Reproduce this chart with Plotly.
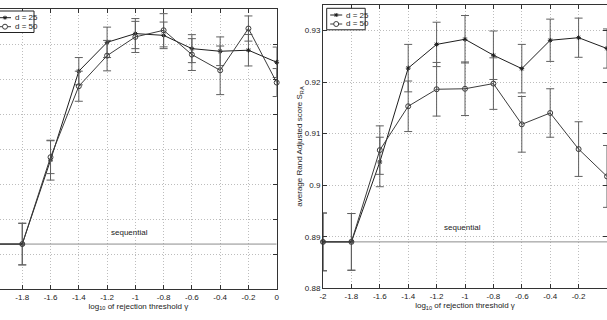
import plotly.graph_objects as go

# ---------------- data ----------------
x_vals = [-2.0, -1.8, -1.6, -1.4, -1.2, -1.0, -0.8, -0.6, -0.4, -0.2, 0.0]
x_tick_vals = [-2.0, -1.8, -1.6, -1.4, -1.2, -1.0, -0.8, -0.6, -0.4, -0.2, 0.0]
x_tick_text = ["-2", "-1.8", "-1.6", "-1.4", "-1.2", "-1", "-0.8", "-0.6", "-0.4", "-0.2", "0"]

# left panel
left_d25 = [0.8257, 0.8257, 0.8737, 0.9246, 0.9411, 0.9461, 0.9451, 0.9375, 0.9360, 0.9366, 0.9297]
left_d25_err = [0.0119, 0.0119, 0.0114, 0.0078, 0.0087, 0.0086, 0.0076, 0.0080, 0.0082, 0.0090, 0.0087]
left_d50 = [0.8257, 0.8257, 0.8754, 0.9160, 0.9335, 0.9442, 0.9480, 0.9341, 0.9251, 0.9490, 0.9181]
left_d50_err = [0.0119, 0.0119, 0.0094, 0.0086, 0.0087, 0.0089, 0.0095, 0.0091, 0.0139, 0.0072, 0.0080]
left_sequential = 0.8257

# right panel
right_d25 = [0.8890, 0.8890, 0.9045, 0.9227, 0.9273, 0.9283, 0.9252, 0.9226, 0.9281, 0.9286, 0.9265]
right_d25_err = [0.0056, 0.0055, 0.0048, 0.0046, 0.0043, 0.0046, 0.0047, 0.0047, 0.0041, 0.0038, 0.0038]
right_d50 = [0.8890, 0.8890, 0.9068, 0.9153, 0.9186, 0.9187, 0.9197, 0.9118, 0.9140, 0.9070, 0.9017]
right_d50_err = [0.0056, 0.0055, 0.0047, 0.0049, 0.0052, 0.0052, 0.0050, 0.0054, 0.0047, 0.0053, 0.0060]
right_sequential = 0.8890
right_y_tick_vals = [0.88, 0.89, 0.90, 0.91, 0.92, 0.93]
right_y_tick_text = ["0.88", "0.89", "0.9", "0.91", "0.92", "0.93"]

series_names = ["d = 25", "d = 50"]
x_title = "log<sub>10</sub> of rejection threshold γ"
y_title_right = "average Rand Adjusted score S<sub>RA</sub>"
seq_label = "sequential"

# ---------------- styling ----------------
FONT = "Liberation Sans Narrow, Arial Narrow, Liberation Sans, Arial, sans-serif"
FS = 8
C25 = "#1e1e1e"
C50 = "#3c3c3c"
CERR = "#606060"
CSEQ = "#8c8c8c"
W, H = 607, 320

fig = go.Figure()


def add_panel(xa, ya, d25, e25, d50, e50, seq):
    fig.add_trace(go.Scatter(
        x=[x_vals[0], x_vals[-1]], y=[seq, seq], mode="lines",
        line=dict(color=CSEQ, width=1), showlegend=False, hoverinfo="skip",
        xaxis=xa, yaxis=ya))
    fig.add_trace(go.Scatter(
        x=x_vals, y=d25, name=series_names[0], mode="lines+markers",
        line=dict(color=C25, width=1),
        marker=dict(symbol="asterisk-open", size=4, color=C25, line=dict(color=C25, width=1)),
        error_y=dict(type="data", array=e25, color=CERR, thickness=1, width=4),
        xaxis=xa, yaxis=ya, showlegend=False, cliponaxis=False))
    fig.add_trace(go.Scatter(
        x=x_vals, y=d50, name=series_names[1], mode="lines+markers",
        line=dict(color=C50, width=1),
        marker=dict(symbol="circle-open", size=5, color=C50, line=dict(color=C50, width=1)),
        error_y=dict(type="data", array=e50, color=CERR, thickness=1, width=4),
        xaxis=xa, yaxis=ya, showlegend=False, cliponaxis=False))


add_panel("x", "y", left_d25, left_d25_err, left_d50, left_d50_err, left_sequential)
add_panel("x2", "y2", right_d25, right_d25_err, right_d50, right_d50_err, right_sequential)

axis_common = dict(
    showline=True, linecolor="#333333", linewidth=1,
    ticks="inside", ticklen=4, tickcolor="#333333",
    showgrid=True, gridcolor="#bdbdbd", griddash="1px,2px", gridwidth=1,
    zeroline=False, tickfont=dict(size=FS, color="#222222", family=FONT),
    automargin=False,
)


# ---------- compact legend boxes (pixel geometry -> paper coords) ----------
def px(xv):
    return xv / W


def py(yv):
    return 1 - yv / H


shapes = []
annotations = []


def legend_box(x0, y0):
    bw, bh = 38.5, 21.5
    shapes.append(dict(type="rect", xref="paper", yref="paper",
                       x0=px(x0), x1=px(x0 + bw), y0=py(y0), y1=py(y0 + bh),
                       line=dict(color="#222222", width=1), fillcolor="white", layer="above"))
    rows = [y0 + 6.7, y0 + 15.7]
    for i, ry in enumerate(rows):
        col = C25 if i == 0 else C50
        shapes.append(dict(type="line", xref="paper", yref="paper",
                           x0=px(x0 + 3.5), x1=px(x0 + 15.5), y0=py(ry), y1=py(ry),
                           line=dict(color=col, width=1), layer="above"))
        if i == 0:
            shapes.append(dict(type="path", xref="paper", yref="paper",
                               xsizemode="pixel", ysizemode="pixel",
                               xanchor=px(x0 + 9.5), yanchor=py(ry),
                               path="M-2,0H2M0,-2V2M-1.5,-1.5L1.5,1.5M-1.5,1.5L1.5,-1.5",
                               line=dict(color=col, width=1), layer="above"))
        else:
            shapes.append(dict(type="circle", xref="paper", yref="paper",
                               xsizemode="pixel", ysizemode="pixel",
                               xanchor=px(x0 + 9.5), yanchor=py(ry),
                               x0=-2.5, x1=2.5, y0=-2.5, y1=2.5,
                               line=dict(color=col, width=1), fillcolor="white", layer="above"))
        annotations.append(dict(text=series_names[i], xref="paper", yref="paper",
                                x=px(x0 + 17.5), y=py(ry), xanchor="left", yanchor="middle",
                                showarrow=False, font=dict(size=FS, color="#222222")))


legend_box(-4.5, 11.0)
legend_box(326.7, 8.3)

annotations += [
    dict(text=seq_label, x=-1.04, y=0.8326, xref="x", yref="y",
         showarrow=False, font=dict(size=FS)),
    dict(text=seq_label, x=-1.02, y=0.8917, xref="x2", yref="y2",
         showarrow=False, font=dict(size=FS)),
]

left_x1 = 276.7 / W
fig.update_layout(
    width=W, height=H,
    margin=dict(l=0, r=0, t=0, b=0, autoexpand=False),
    paper_bgcolor="white", plot_bgcolor="white",
    font=dict(family=FONT, size=FS, color="#222222"),
    xaxis=dict(domain=[0, left_x1], range=[-1.9575, 0],
               tickvals=x_tick_vals, ticktext=x_tick_text,
               mirror="ticks", anchor="y",
               title=dict(text=x_title, font=dict(size=FS), standoff=1),
               **axis_common),
    yaxis=dict(domain=[(H - 289) / H, (H - 9.3) / H], range=[0.80, 0.96], dtick=0.02,
               side="right", showticklabels=False, anchor="x",
               **axis_common),
    xaxis2=dict(domain=[323 / W, 1.0], range=[-2, 0],
                tickvals=x_tick_vals, ticktext=x_tick_text,
                mirror="ticks", anchor="y2",
                title=dict(text=x_title, font=dict(size=FS), standoff=1),
                **axis_common),
    yaxis2=dict(domain=[(H - 288.3) / H, (H - 4.7) / H], range=[0.88, 0.935],
                tickvals=right_y_tick_vals, ticktext=right_y_tick_text,
                mirror="ticks", anchor="x2",
                title=dict(text=y_title_right, font=dict(size=FS), standoff=0),
                **axis_common),
    shapes=shapes,
    annotations=annotations,
    showlegend=False,
)

fig.write_html("out.html")
